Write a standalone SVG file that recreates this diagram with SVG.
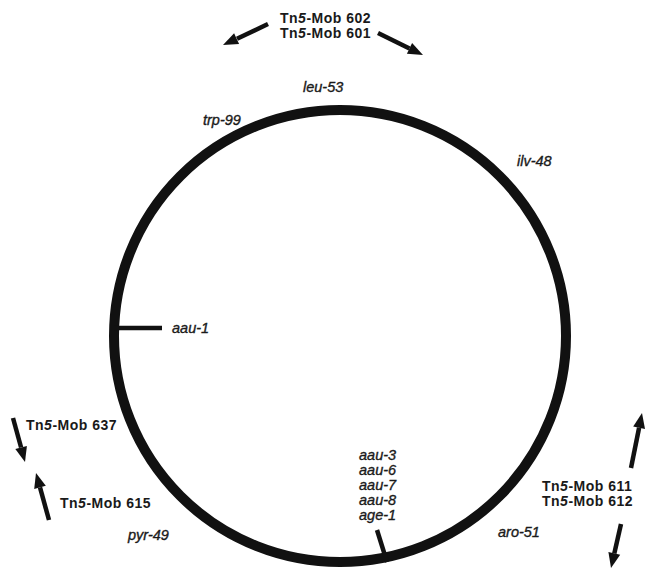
<svg xmlns="http://www.w3.org/2000/svg" width="645" height="571" viewBox="0 0 645 571">
<style>
.tn{font-family:"Liberation Sans",Arial,sans-serif;font-size:14px;font-weight:bold;fill:#1a1a1a;letter-spacing:0.5px}
.g{font-family:"Liberation Sans",Arial,sans-serif;font-size:14.5px;font-style:italic;fill:#1a1a1a;stroke:#1a1a1a;stroke-width:0.35}
.shaft{stroke:#111;stroke-width:4.5;fill:none}
.head{fill:#111}
.tick{stroke:#111;stroke-width:4.5;fill:none}
</style>
<rect width="645" height="571" fill="#fff"/>
<g id="chromosome">
<circle cx="340" cy="336" r="226" fill="none" stroke="#111" stroke-width="10"/>
</g>
<g id="marker-aau-1">
<line class="tick" x1="114" y1="328" x2="162" y2="328"/>
<text class="g" x="172" y="333">aau-1</text>
</g>
<g id="marker-aau-cluster">
<line class="tick" x1="377" y1="530" x2="387" y2="562"/>
<text class="g" x="359" y="460">aau-3</text>
<text class="g" x="359" y="475">aau-6</text>
<text class="g" x="359" y="490">aau-7</text>
<text class="g" x="359" y="505">aau-8</text>
<text class="g" x="359" y="520">age-1</text>
</g>
<g id="label-leu-53"><text class="g" x="303" y="92">leu-53</text></g>
<g id="label-trp-99"><text class="g" x="203" y="125">trp-99</text></g>
<g id="label-ilv-48"><text class="g" x="517" y="166">ilv-48</text></g>
<g id="label-pyr-49"><text class="g" x="128" y="540">pyr-49</text></g>
<g id="label-aro-51"><text class="g" x="498" y="537">aro-51</text></g>
<g id="tn-602-601">
<text class="tn" x="280" y="23">Tn<tspan font-style="italic">5</tspan>-Mob 602</text>
<text class="tn" x="280" y="38">Tn<tspan font-style="italic">5</tspan>-Mob 601</text>
</g>
<g id="tn-637"><text class="tn" x="26" y="430">Tn<tspan font-style="italic">5</tspan>-Mob 637</text></g>
<g id="tn-615"><text class="tn" x="60" y="508">Tn<tspan font-style="italic">5</tspan>-Mob 615</text></g>
<g id="tn-611-612">
<text class="tn" x="542" y="491">Tn<tspan font-style="italic">5</tspan>-Mob 611</text>
<text class="tn" x="542" y="506">Tn<tspan font-style="italic">5</tspan>-Mob 612</text>
</g>
<g id="connectors">
<line class="shaft" x1="268" y1="24" x2="237" y2="38.7"/>
<polygon class="head" points="223,45 239.1,44.1 234.1,33.2"/>
<line class="shaft" x1="378" y1="33" x2="409.5" y2="48.4"/>
<polygon class="head" points="423,55 412.1,43 406.9,53.8"/>
<line class="shaft" x1="13" y1="418" x2="21.1" y2="447.5"/>
<polygon class="head" points="25,462 26.9,445.9 15.3,449.1"/>
<line class="shaft" x1="49" y1="520" x2="40" y2="487.4"/>
<polygon class="head" points="36,473 34.2,489 45.8,485.8"/>
<line class="shaft" x1="631" y1="468" x2="639.1" y2="427.7"/>
<polygon class="head" points="642,413 633.2,426.5 645,428.9"/>
<line class="shaft" x1="621" y1="524" x2="614.3" y2="553.4"/>
<polygon class="head" points="611,568 620.2,554.7 608.4,552.1"/>
</g>
</svg>
